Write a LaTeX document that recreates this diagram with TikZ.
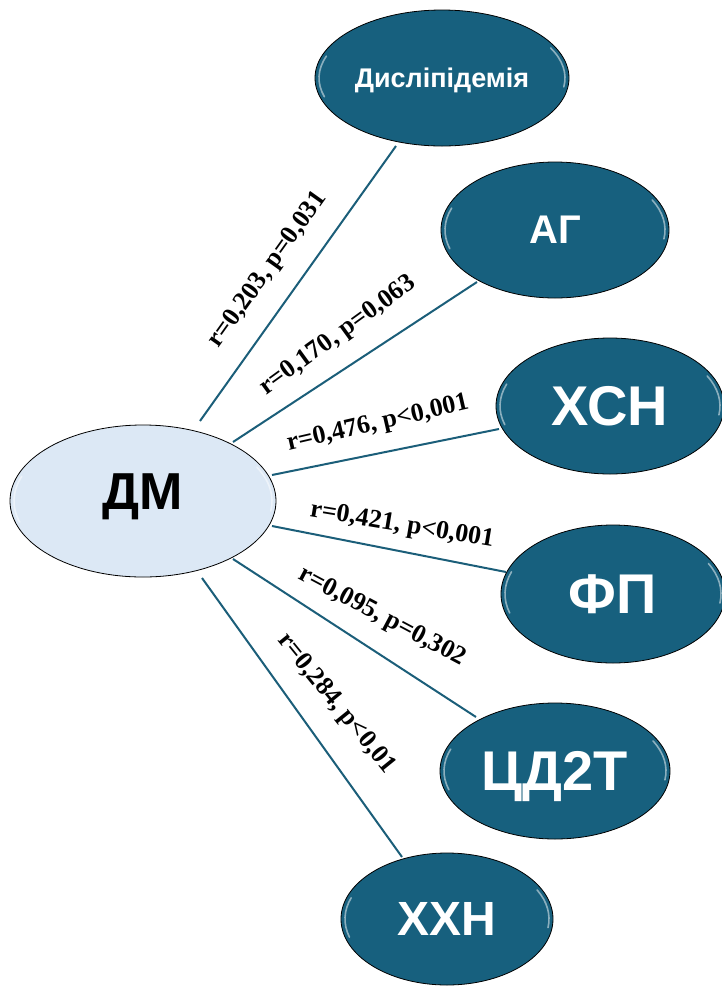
\documentclass[tikz,border=0pt]{standalone}
\usepackage{fontspec}
\setmainfont{Liberation Serif}
\newfontfamily\nodefont{Liberation Sans}
\usetikzlibrary{shapes.geometric}
\definecolor{darkteal}{HTML}{17607E}
\definecolor{linecol}{HTML}{1B5E79}
\definecolor{lightfill}{HTML}{DCE8F5}
\tikzset{
  darknode/.style={ellipse, draw=black, line width=0.8pt, fill=darkteal, text=white, inner sep=0pt, text depth=0pt},
  lightnode/.style={ellipse, draw=black, line width=0.8pt, fill=lightfill, text=black, inner sep=0pt, text depth=0pt},
  link/.style={draw=linecol, line width=2pt},
  lbl/.style={font=\bfseries\fontsize{26}{26}\selectfont, inner sep=0pt, text=black},
  gleamline/.style={white, opacity=0.5, line width=1.6pt, line cap=round},
}
\newcommand\gleam[3]{%
  \draw[gleamline] ([shift={(#1.center)}]163:#2-4 and #3-4) arc[start angle=163, end angle=200, x radius=#2-4, y radius=#3-4];
  \draw[gleamline] ([shift={(#1.center)}]-28:#2-4 and #3-4) arc[start angle=-28, end angle=8, x radius=#2-4, y radius=#3-4];
}
\begin{document}
\begin{tikzpicture}[x=1pt,y=-1pt]
\useasboundingbox (0,0) rectangle (721,989);
% connector ends
\coordinate (c1a) at (200,421); \coordinate (c1b) at (396,146);
\coordinate (c2a) at (233,442); \coordinate (c2b) at (477,282);
\coordinate (c3a) at (272,475); \coordinate (c3b) at (499,429);
\coordinate (c4a) at (272,526); \coordinate (c4b) at (506,572);
\coordinate (c5a) at (233,559); \coordinate (c5b) at (476,717);
\coordinate (c6a) at (202,578); \coordinate (c6b) at (402,857);
\draw[link] (c1a) -- (c1b);
\draw[link] (c2a) -- (c2b);
\draw[link] (c3a) -- (c3b);
\draw[link] (c4a) -- (c4b);
\draw[link] (c5a) -- (c5b);
\draw[link] (c6a) -- (c6b);
% central node
\node[lightnode, minimum width=266pt, minimum height=152pt,
      label={[font=\nodefont\bfseries\fontsize{52}{52}\selectfont, text depth=0pt, yshift=9pt, inner sep=0pt]center:ДМ}] (dm) at (143,501) {};
\gleam{dm}{133}{76}
% outer nodes
\node[darknode, minimum width=254pt, minimum height=136pt, font=\nodefont\bfseries\fontsize{27}{27}\selectfont] (dys) at (442,78) {Дисліпідемія};
\gleam{dys}{127}{68}
\node[darknode, minimum width=228pt, minimum height=136pt, font=\nodefont\bfseries\fontsize{40}{40}\selectfont] (ag) at (555,230) {АГ};
\gleam{ag}{114}{68}
\node[darknode, minimum width=228pt, minimum height=136pt, font=\nodefont\bfseries\fontsize{56}{56}\selectfont] (hsn) at (610,406) {ХСН};
\gleam{hsn}{114}{68}
\node[darknode, minimum width=224pt, minimum height=138pt, font=\nodefont\bfseries\fontsize{56}{56}\selectfont] (fp) at (613,594) {ФП};
\gleam{fp}{112}{69}
\node[darknode, minimum width=230pt, minimum height=136pt, font=\nodefont\bfseries\fontsize{56}{56}\selectfont] (cd) at (555,771) {ЦД2Т};
\gleam{cd}{115}{68}
\node[darknode, minimum width=212pt, minimum height=132pt, font=\nodefont\bfseries\fontsize{48}{48}\selectfont] (hhn) at (447,919) {ХХН};
\gleam{hhn}{106}{66}
% labels
\node[lbl, rotate=54.5] (l1) at (268,270) {r=0,203, p=0,031};
\node[lbl, rotate=36] (l2) at (338,336) {r=0,170, p=0,063};
\node[lbl, rotate=13] (l3) at (378,424) {r=0,476, p<0,001};
\node[lbl, rotate=-9.5] (l4) at (402,526) {r=0,421, p<0,001};
\node[lbl, rotate=-28] (l5) at (382,617) {r=0,095, p=0,302};
\node[lbl, rotate=-51] (l6) at (336,704) {r=0,284, p<0,01};
\end{tikzpicture}
\end{document}
